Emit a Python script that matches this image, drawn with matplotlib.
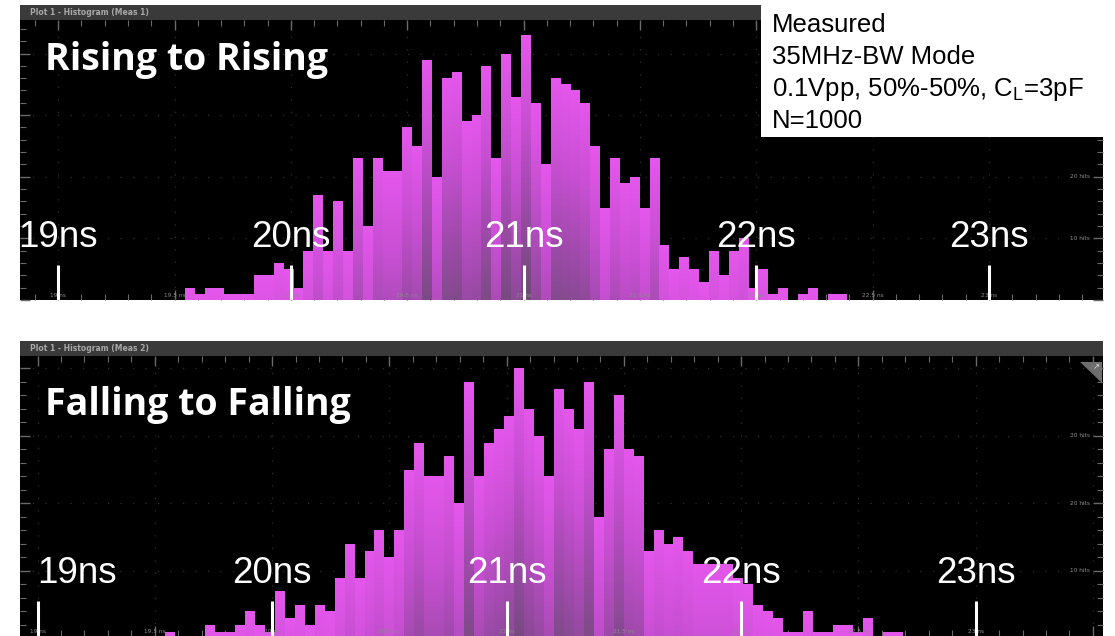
import numpy as np
import matplotlib
matplotlib.use("Agg")
import matplotlib.pyplot as plt
from matplotlib.colors import LinearSegmentedColormap
from matplotlib.patches import Rectangle, Polygon
from matplotlib.ticker import MultipleLocator
from matplotlib.transforms import blended_transform_factory

# ---- data -----------------------------------------------------------------
bin_start = 19.544          # left edge of first histogram bin (ns)
bin_width = 0.0425          # histogram bin width (ns)

rising_counts = [2, 1, 2, 2, 1, 1, 1, 4, 4, 6, 5, 2, 8, 17, 8, 16, 8, 23, 12, 23, 21, 21,
                 28, 25, 39, 20, 36, 37, 29, 30, 38, 23, 40, 33, 43, 32, 22, 36, 35, 34,
                 32, 25, 15, 23, 19, 20, 15, 23,
                 9, 5, 7, 5, 3, 8, 4, 8, 10, 2, 5, 1, 2, 0, 1, 2, 0, 1, 1]

falling_counts = [1, 0, 0, 0, 2, 1, 1, 2, 4, 2, 1, 7, 3, 5, 2, 5, 4, 9, 14, 9, 13, 16, 12, 16,
                  25, 29, 24, 24, 27, 20, 38, 24, 29, 31, 33, 40, 34, 30, 24, 37, 34, 31,
                  38, 18, 28, 36, 28, 27,
                  13, 16, 14, 15, 13, 11, 11, 11, 11, 9, 8, 5, 4, 3, 1, 1, 4, 1, 1, 2, 2,
                  1, 3, 0, 1, 1]

big_ticks = [19, 20, 21, 22, 23]
big_labels = ["19ns", "20ns", "21ns", "22ns", "23ns"]
scope_ticks = [19, 19.5, 20, 20.5, 21, 21.5, 22, 22.5, 23]
scope_labels = ["19 ns", "19.5 ns", "20 ns", "20.5 ns", "21 ns", "21.5 ns", "22 ns", "22.5 ns", "23 ns"]
hit_ticks_top = [10, 20]
hit_ticks_bottom = [10, 20, 30]

titles = ["Rising to Rising", "Falling to Falling"]
headers = ["Plot 1 - Histogram (Meas 1)", "Plot 1 - Histogram (Meas 2)"]
info_lines = ["Measured", "35MHz-BW Mode", "0.1Vpp, 50%-50%, C$_\\mathregular{L}$=3pF", "N=1000"]

# ---- figure ----------------------------------------------------------------
W, H = 1115, 636
fig = plt.figure(figsize=(W / 100, H / 100), dpi=100, facecolor="white")


def px_rect(x0, y0, x1, y1):
    """Figure-fraction rectangle from pixel box (y measured from top)."""
    return [x0 / W, 1 - y1 / H, (x1 - x0) / W, (y1 - y0) / H]


bar_cmap = LinearSegmentedColormap.from_list(
    "scope_magenta", ["#e457ec", "#c74fd2", "#9c4aa8", "#724a7a"])


def draw_panel(header_box, plot_box, counts, xlim, ylim, title, header, hit_ticks,
               label_ha, title_y, corner_icon=False):
    # header strip
    hax = fig.add_axes(px_rect(*header_box))
    hax.set_facecolor("#3a3a3a")
    hax.set_xticks([]); hax.set_yticks([])
    for s in hax.spines.values():
        s.set_visible(False)
    hax.text(0.009, 0.5, header, transform=hax.transAxes, color="#a8a8a8",
             fontsize=5.5, fontweight="bold", va="center", ha="left")

    ax = fig.add_axes(px_rect(*plot_box))
    ax.set_facecolor("black")
    for s in ax.spines.values():
        s.set_visible(False)

    # faint dotted scope graticule
    for gx in np.arange(19, 23.51, 0.5):
        ax.axvline(gx, color="#303030", lw=0.9, ls=(0, (1, 9)), zorder=0.5)
    for gy in np.arange(10, 41, 10):
        ax.axhline(gy, color="#303030", lw=0.9, ls=(0, (1, 9)), zorder=0.5)

    # histogram bars with a top-down magenta gradient
    centers = bin_start + bin_width * (np.arange(len(counts)) + 0.5)
    bars = ax.bar(centers, counts, width=bin_width, color="#b04dbb", linewidth=0, zorder=2)
    for b, h in zip(bars, counts):
        if h <= 0:
            continue
        x0 = b.get_x()
        depth = np.linspace(h, 0, 80)[:, None]
        im = ax.imshow(depth, cmap=bar_cmap, vmin=0, vmax=42, origin="lower",
                       extent=(x0, x0 + bin_width, 0, h), aspect="auto",
                       interpolation="bilinear", zorder=2.1)
        im.set_clip_path(b)

    ax.set_xlim(*xlim)
    ax.set_ylim(*ylim)

    # scope ticks around the frame
    ax.xaxis.set_major_locator(MultipleLocator(0.5))
    ax.xaxis.set_minor_locator(MultipleLocator(0.1))
    ax.yaxis.set_major_locator(MultipleLocator(10))
    ax.yaxis.set_minor_locator(MultipleLocator(2))
    ax.tick_params(which="both", direction="in", colors="#6a6a6a", top=True, bottom=True,
                   left=True, right=True, labelbottom=False, labelleft=False)
    ax.tick_params(which="major", length=7, width=1.0)
    ax.tick_params(which="minor", length=4, width=0.8)

    # tiny scope axis labels
    tx = blended_transform_factory(ax.transData, ax.transAxes)
    for t, lab in zip(scope_ticks, scope_labels):
        ax.text(t, 0.008, lab, transform=tx, color="#8a8a8a", fontsize=4.2,
                ha="center", va="bottom", zorder=3)
    ty = blended_transform_factory(ax.transAxes, ax.transData)
    for hv in hit_ticks:
        ax.text(0.988, hv, f"{hv} hits", transform=ty, color="#8a8a8a", fontsize=4.2,
                ha="right", va="center", zorder=3)

    # annotation overlay: big white time markers
    for t, lab, ha in zip(big_ticks, big_labels, label_ha):
        ax.plot([t, t], [0, 0.125], transform=tx, color="white", lw=2.2,
                solid_capstyle="butt", zorder=5)
        ax.text(t, 0.19, lab, transform=tx, color="white", fontsize=26.5,
                family="Liberation Sans", ha=ha, va="baseline", zorder=5)

    ax.text(25 / (plot_box[2] - plot_box[0]), title_y, title, transform=ax.transAxes,
            color="white", fontsize=27, fontweight="bold", family="Open Sans",
            ha="left", va="baseline", zorder=5)

    if corner_icon:
        fig.add_artist(Polygon([(1080 / W, 1 - 362 / H), (1102 / W, 1 - 362 / H),
                                (1102 / W, 1 - 383 / H)], closed=True,
                               transform=fig.transFigure, facecolor="#6e6e6e",
                               edgecolor="none", zorder=6))
        fig.text(1096 / W, 1 - 367 / H, "\u2197", color="#e0e0e0", fontsize=6,
                 ha="center", va="center", zorder=7)
    return ax


# top panel: Rising to Rising
draw_panel(header_box=(20, 5, 1103, 20), plot_box=(20, 20, 1103, 300),
           counts=rising_counts, xlim=(18.836, 23.490), ylim=(0.0, 45.44),
           title=titles[0], header=headers[0], hit_ticks=hit_ticks_top,
           label_ha=["center"] * 5, title_y=(300 - 70) / 280)

# bottom panel: Falling to Falling
draw_panel(header_box=(20, 341, 1103, 356), plot_box=(20, 356, 1103, 636),
           counts=falling_counts, xlim=(18.925, 23.543), ylim=(0.36, 41.84),
           title=titles[1], header=headers[1], hit_ticks=hit_ticks_bottom,
           label_ha=["left"] + ["center"] * 4, title_y=(636 - 415) / 280,
           corner_icon=True)

# measurement conditions box
fig.add_artist(Rectangle((761 / W, 1 - 137 / H), (W - 761) / W, 137 / H,
                         transform=fig.transFigure, facecolor="white",
                         edgecolor="none", zorder=10))
for i, line in enumerate(info_lines):
    fig.text(772 / W, 1 - (32 + 32 * i) / H, line, color="black", fontsize=18.5,
             family="Liberation Sans", ha="left", va="baseline", zorder=11)

fig.savefig("out.png", dpi=100, facecolor="white")
